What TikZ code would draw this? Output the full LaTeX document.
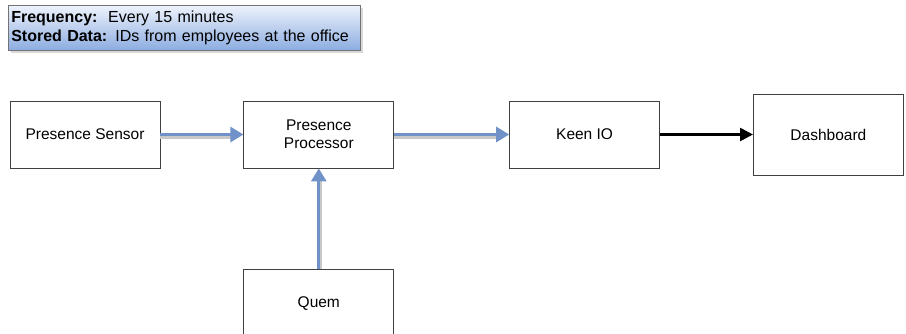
\documentclass[tikz,border=0pt]{standalone}
\usepackage{fontspec}
\setmainfont{Liberation Sans}
\usetikzlibrary{arrows.meta,positioning,shadows}

\definecolor{flowblue}{RGB}{112,146,200}
\definecolor{flowgray}{RGB}{200,200,200}
\definecolor{notetop}{RGB}{238,243,252}
\definecolor{notebot}{RGB}{140,172,224}

\begin{document}
\begin{tikzpicture}[
x=1pt, y=-1pt,
node distance=83pt and 83pt,
box/.style={draw=black!75, line width=0.8pt, align=center, minimum width=150pt, minimum height=67pt, font=\fontsize{15.5pt}{18pt}\selectfont},
note/.style={draw=black!55, line width=0.6pt, top color=notetop, bottom color=notebot, align=left, text width=346pt, minimum height=45pt, inner xsep=3pt, inner ysep=2pt, font=\fontsize{16pt}{19pt}\selectfont, drop shadow={shadow xshift=3pt, shadow yshift=-3pt, fill=black!25, opacity=0.6}},
flow/.style={-{Triangle[width=15pt,length=13pt]}, draw=flowblue, fill=flowblue, line width=2.8pt},
flowshadow/.style={draw=flowgray, line width=2.8pt},
arrow/.style={-{Triangle[width=13pt,length=13pt]}, line width=2.6pt}
]
\useasboundingbox (0,0) rectangle (906,333);

\node[note, anchor=north west] (info) at (8,5)
  {\textbf{Frequency:}\, Every 15 minutes\\\textbf{Stored Data:} IDs from employees at the office};

\node[box] (sensor) at (85,134.5) {Presence Sensor};
\node[box, right=of sensor] (proc) {Presence\\Processor};
\node[box, right=115pt of proc] (keen) {Keen IO};
\node[box, right=93pt of keen, minimum height=81pt] (dash) {Dashboard};
\node[box, below=101pt of proc] (quem) {Quem};

% shadows under the flows
\draw[flowshadow] ([yshift=-3pt]sensor.east) -- ([xshift=-10pt,yshift=-3pt]proc.west);
\draw[flowshadow] ([yshift=-3pt]proc.east) -- ([xshift=-10pt,yshift=-3pt]keen.west);
\draw[flowshadow] ([xshift=2pt]quem.north) -- ([xshift=2pt,yshift=-10pt]proc.south);

\draw[flow] (sensor) -- (proc);
\draw[flow] (proc) -- (keen);
\draw[flow] (quem) -- (proc);
\draw[arrow] (keen) -- (keen -| dash.west);
\end{tikzpicture}
\end{document}
